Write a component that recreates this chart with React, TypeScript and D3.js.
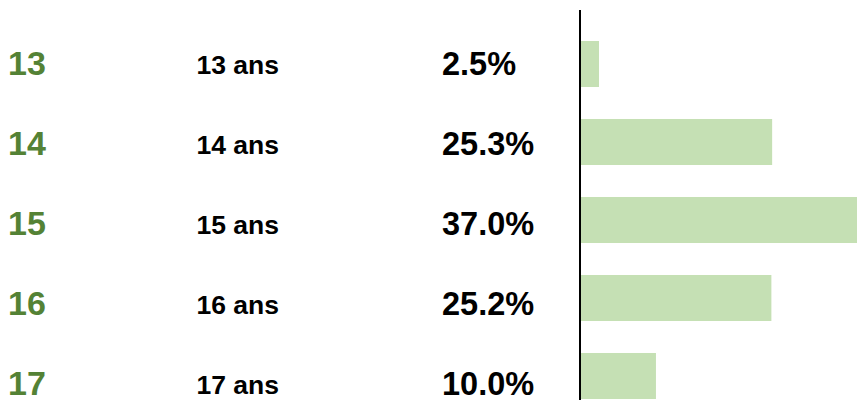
import React from "react";
import * as d3 from "d3";

const ages = ["13", "14", "15", "16", "17"];
const ageLabels = ["13 ans", "14 ans", "15 ans", "16 ans", "17 ans"];
const shares = [2.5, 25.3, 37.0, 25.2, 10.0];

const W = 857;
const H = 400;
const FONT = "'Liberation Sans', Arial, sans-serif";

export default function App() {
  const x = d3.scaleLinear().domain([0, 37]).range([580, 861]);
  const yBar = d3
    .scaleBand<string>()
    .domain(ages)
    .range([25, 415])
    .paddingInner(0.41)
    .paddingOuter(0.205);
  const yText = d3.scalePoint<string>().domain(ages).range([75, 394.5]);

  return (
    <svg
      width={W}
      height={H}
      style={{ position: "absolute", left: 0, top: 0, display: "block" }}
    >
      <rect width={W} height={H} fill="#ffffff" />
      {ages.map((a, i) => (
        <rect
          key={"b" + a}
          x={x(0)}
          y={yBar(a)}
          width={x(shares[i]) - x(0)}
          height={yBar.bandwidth()}
          fill="#C5E0B4"
        />
      ))}
      <line x1={580} x2={580} y1={10} y2={H} stroke="#000" strokeWidth={2} />
      {ages.map((a, i) => (
        <g key={"t" + a} fontFamily={FONT} fontWeight="bold">
          <text x={8} y={yText(a)} fontSize={34} fill="#548235">
            {a}
          </text>
          <text x={196.5} y={yText(a)! - 1} fontSize={26.5} fill="#000">
            {ageLabels[i]}
          </text>
          <text x={442} y={yText(a)} fontSize={32.5} fill="#000">
            {d3.format(".1f")(shares[i]) + "%"}
          </text>
        </g>
      ))}
    </svg>
  );
}
